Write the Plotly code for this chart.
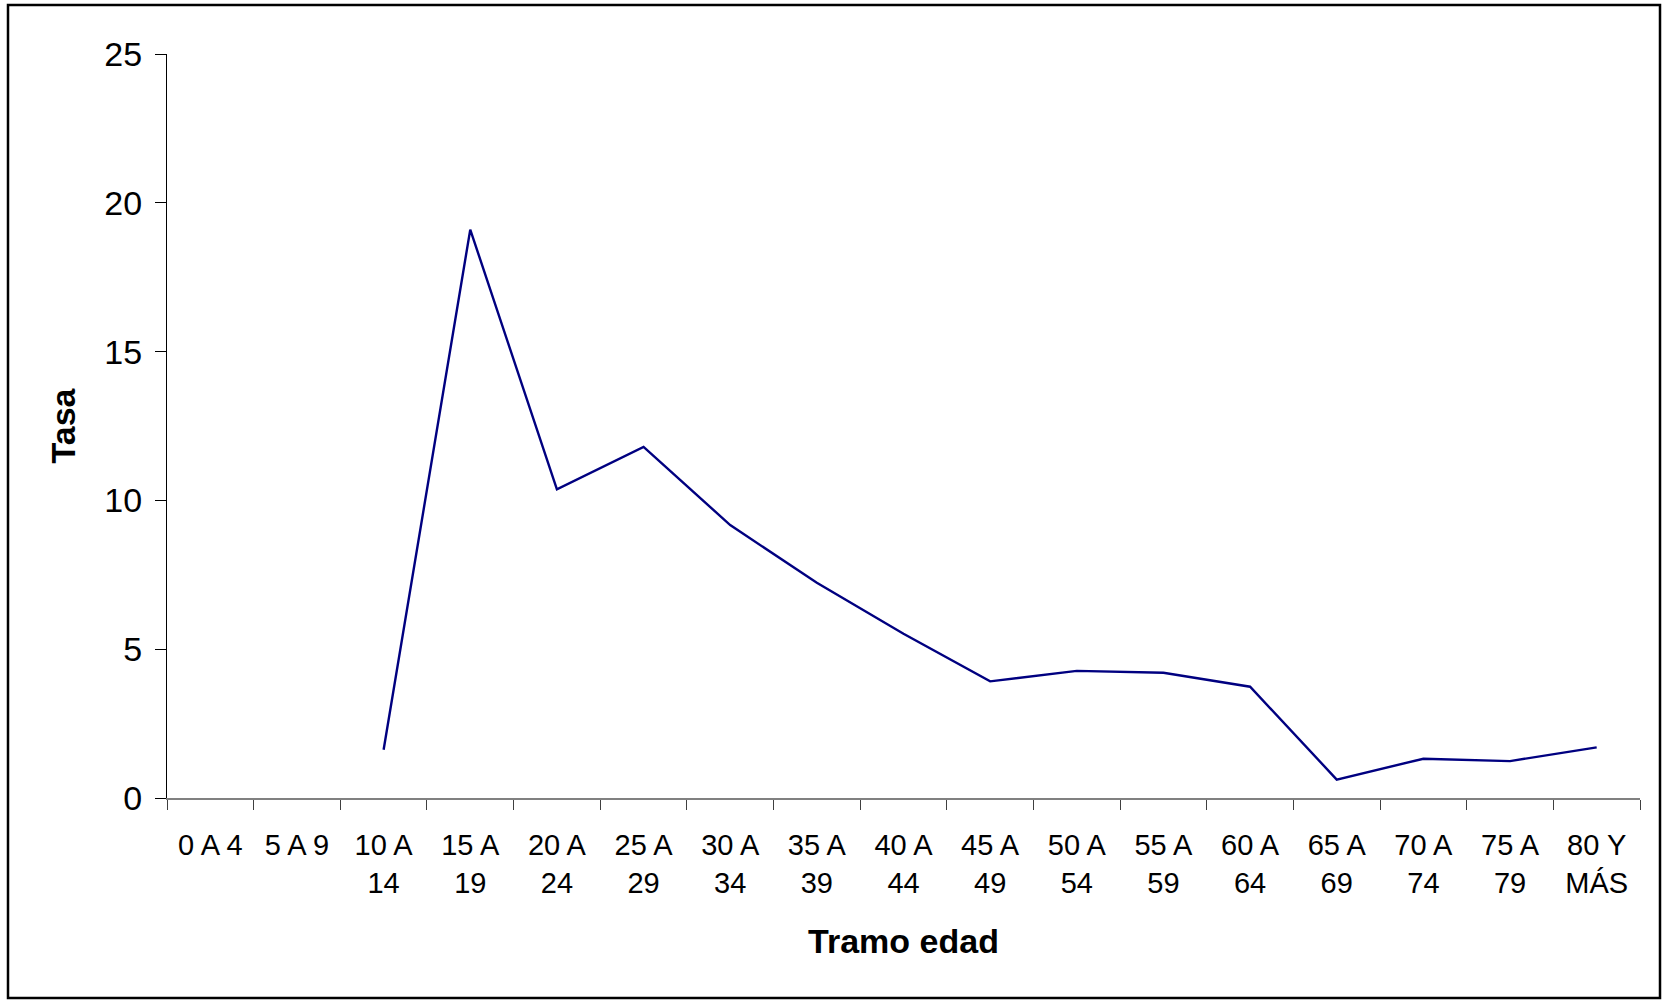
import plotly.graph_objects as go

categories = ["0 A 4", "5 A 9", "10 A 14", "15 A 19", "20 A 24", "25 A 29", "30 A 34",
              "35 A 39", "40 A 44", "45 A 49", "50 A 54", "55 A 59", "60 A 64",
              "65 A 69", "70 A 74", "75 A 79", "80 Y MÁS"]
tick_labels = ["0 A 4", "5 A 9", "10 A<br>14", "15 A<br>19", "20 A<br>24", "25 A<br>29",
               "30 A<br>34", "35 A<br>39", "40 A<br>44", "45 A<br>49", "50 A<br>54",
               "55 A<br>59", "60 A<br>64", "65 A<br>69", "70 A<br>74", "75 A<br>79",
               "80 Y<br>MÁS"]
tasa = [None, None, 1.62, 19.1, 10.37, 11.8, 9.17, 7.23, 5.52, 3.92, 4.27, 4.21, 3.74,
        0.62, 1.32, 1.24, 1.70]
y_ticks = [0, 5, 10, 15, 20, 25]

W, H = 1663, 1001
L, R, T, B = 167, 1640, 54, 798
FONT = "Arial, Liberation Sans, sans-serif"

fig = go.Figure()
fig.add_trace(go.Scatter(
    x=categories, y=tasa, mode="lines",
    line=dict(color="#000080", width=2.4),
    connectgaps=False, showlegend=False, hoverinfo="x+y"))

pw, ph = R - L, B - T
def px(x):
    return (x - L) / pw
def py(y):
    return (B - y) / ph

fig.add_shape(type="rect", xref="paper", yref="paper",
              x0=px(8), x1=px(1660), y0=py(998), y1=py(5),
              line=dict(color="black", width=2.5), fillcolor="rgba(0,0,0,0)", layer="below")

fig.update_layout(
    width=W, height=H,
    margin=dict(l=L, r=W - R, t=T, b=H - B, autoexpand=False),
    paper_bgcolor="white", plot_bgcolor="white",
    font=dict(family=FONT, color="black"),
    xaxis=dict(
        type="category", categoryorder="array", categoryarray=categories,
        tickmode="array", tickvals=categories, ticktext=tick_labels,
        range=[-0.5, len(categories) - 0.5],
        tickson="boundaries", ticks="outside", ticklen=10, tickcolor="#404040", tickwidth=1.2,
        showline=True, linecolor="#808080", linewidth=2, showgrid=False, zeroline=False,
        tickfont=dict(size=29, family=FONT), ticklabelstandoff=20,
        title=dict(text="<b>Tramo edad</b>", font=dict(size=34, family=FONT), standoff=32),
        automargin=False, fixedrange=True,
    ),
    yaxis=dict(
        range=[0, 25], tickmode="array", tickvals=y_ticks,
        ticks="outside", ticklen=11, tickcolor="black", tickwidth=1,
        showline=True, linecolor="black", linewidth=1, showgrid=False, zeroline=False,
        tickfont=dict(size=34, family=FONT), ticklabelstandoff=6,
        title=dict(text="<b>Tasa</b>", font=dict(size=34, family=FONT), standoff=18),
        automargin=False, fixedrange=True,
    ),
)

fig.write_html("out.html", config={"displayModeBar": False},
               post_script="document.body.style.margin='0';")
